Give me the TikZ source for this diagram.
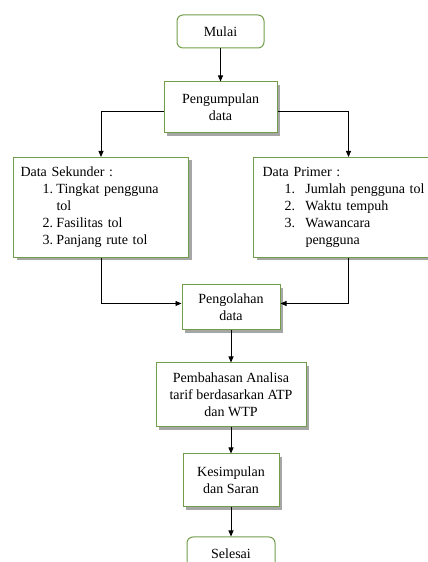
\documentclass[tikz,border=0pt]{standalone}
\usepackage{fontspec}
\setmainfont{Liberation Serif}
\usetikzlibrary{arrows.meta,positioning,shadows}

\definecolor{boxgreen}{RGB}{114,158,76}
\newcommand{\numitem}[3][14pt]{\hspace*{22pt}\makebox[#1][l]{#2}#3}

\begin{document}
\begin{tikzpicture}[x=1pt, y=1pt, >={Triangle[length=6pt,width=5pt]}, line width=0.8pt,
    font=\fontsize{14}{17}\selectfont,
    box/.style={draw=boxgreen, line width=1pt, fill=white, align=center,
      drop shadow={shadow xshift=3pt, shadow yshift=-3pt, fill=black!35, opacity=1}},
    term/.style={draw=boxgreen, line width=1pt, fill=white, rounded corners=6pt,
      minimum height=33pt},
    listbox/.style={box, align=left, anchor=north west, minimum height=100pt}]
  \useasboundingbox (0,0) rectangle (428,562);

  \node[term, minimum width=87pt] (mulai) at (220.5,530.5) {Mulai};
  \node[box, minimum width=113pt, minimum height=51pt] (kumpul) at (220.5,454.5)
    {Pengumpulan\\data};

  % data sekunder / primer
  \node[listbox, text width=161pt, inner xsep=7pt] (sekunder) at (13,405) {%
    Data Sekunder :\\
    \numitem{1.}{Tingkat pengguna}\\
    \hspace*{36pt}tol\\
    \numitem{2.}{Fasilitas tol}\\
    \numitem{3.}{Panjang rute tol}};
  \node[listbox, text width=172pt, inner xsep=9pt] (primer) at (253,405) {%
    Data Primer :\\
    \numitem[21pt]{1.}{Jumlah pengguna tol}\\
    \numitem[21pt]{2.}{Waktu tempuh}\\
    \numitem[21pt]{3.}{Wawancara}\\
    \hspace*{43pt}pengguna};

  \node[box, minimum width=98pt, minimum height=45pt] (olah) at (231,254.5)
    {Pengolahan\\data};
  \node[box, minimum width=150pt, minimum height=64pt, below=32pt of olah] (bahas)
    {Pembahasan Analisa\\tarif berdasarkan ATP\\dan WTP};
  \node[box, minimum width=96pt, minimum height=53pt, below=26pt of bahas] (simpul)
    {Kesimpulan\\dan Saran};
  \node[term, minimum width=88pt, below=29pt of simpul] (selesai) {Selesai};

  \draw[->] (mulai) -- (kumpul);
  \draw[->] ([yshift=-4pt]kumpul.west) -| (sekunder.north);
  \draw[->] ([yshift=-4pt]kumpul.east) -| (primer.north);
  \draw[->] (sekunder.south) |- ([yshift=4pt]olah.west);
  \draw[->] (primer.south) |- ([yshift=4pt]olah.east);
  \draw[->] (olah) -- (bahas);
  \draw[->] (bahas) -- (simpul);
  \draw[->] (simpul) -- (selesai);
\end{tikzpicture}
\end{document}
